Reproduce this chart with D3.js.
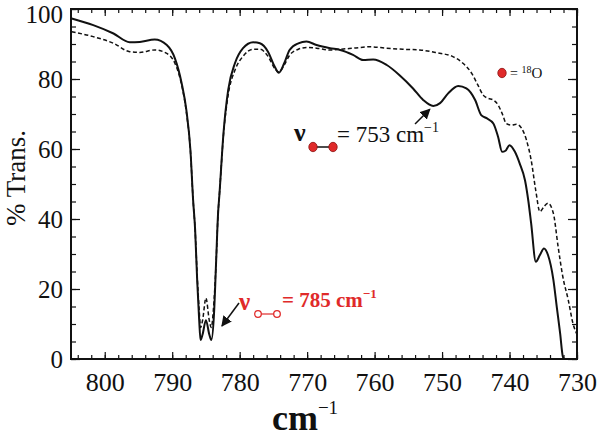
<!DOCTYPE html>
<html><head><meta charset="utf-8">
<script src="https://cdn.jsdelivr.net/npm/d3@7"></script>
<style>body{margin:0;background:#fff}svg{display:block}text{font-family:"Liberation Serif","Times New Roman",serif}</style>
</head><body><svg id="c" width="600" height="441"></svg>
<script>
// ---- data (wavenumber cm^-1, % transmission) ----
const solidSeries = [[804.9,97.3],[801.7,95.4],[798.7,93.0],[796.3,90.5],[794.8,90.6],[792.6,91.3],[790.8,89.7],[789.6,85.9],[788.6,78.8],[787.9,71.1],[787.3,59.7],[786.9,45.4],[786.6,36.9],[786.3,22.6],[786.0,11.1],[785.8,5.4],[785.5,7],[785.0,11.1],[784.5,7],[784.2,5.4],[783.8,13],[783.5,27.3],[783.2,41.6],[783.0,47],[782.4,64.5],[781.7,76.9],[780.7,84.5],[779.5,88.8],[778.0,90.5],[777.0,90.2],[775.8,87.8],[774.8,83.5],[774.2,81.8],[773.4,84.5],[772.6,88.3],[771.3,90.2],[770.1,90.7],[768.6,89.7],[766.6,88.8],[765.1,88.3],[763.2,86.9],[761.7,85.4],[760.2,85.6],[758.2,84.0],[756.3,81.1],[754.3,77.3],[752.8,74],[751.3,72.3],[750.3,73.1],[749.1,75.9],[747.6,78],[746.4,77.3],[745.1,74],[744.2,69.7],[743.4,68.8],[742.4,67.3],[741.7,63.5],[741.1,59.2],[740.6,59.5],[740.0,61.1],[739.2,59.2],[738.5,55.9],[737.7,51],[737.2,45],[736.8,38.8],[736.1,27.8],[735.5,29.7],[734.9,31.6],[734.3,29.7],[733.5,22.6],[733.0,14.9],[732.5,7.3],[732.1,0.7],[731.9,0]];
const dashedSeries = [[804.9,93.5],[801.7,92.1],[798.7,90.2],[796.3,87.8],[794.8,87.6],[792.6,88.3],[790.8,87.3],[789.6,84.5],[788.6,78.3],[787.9,70.5],[787.3,59.5],[786.9,45.4],[786.6,36.9],[786.3,24],[786.0,14],[785.8,9],[785.5,11],[785.0,17.4],[784.5,11],[784.2,9],[783.9,14],[783.5,27.3],[783.2,41.6],[783.0,47],[782.4,64],[781.7,75.5],[780.7,82.5],[779.5,86.5],[778.0,88.5],[777.0,88.5],[775.8,86.5],[774.8,83],[774.2,82],[773.4,84],[772.6,86.8],[771.3,88.5],[770.1,89],[768.6,88.8],[766.6,88.3],[765.1,88.5],[763.2,88.8],[760.7,89.2],[758.2,88.8],[755.8,88.5],[753.3,88.3],[750.8,87.5],[748.4,86.4],[746.9,84.5],[745.6,81.6],[744.7,78.3],[743.9,75.4],[743.2,74.5],[742.4,74],[741.7,72.6],[741.0,69.7],[740.5,67.3],[739.7,66.8],[739.0,67.1],[738.2,65.9],[737.5,62.6],[736.8,56.9],[736.1,48],[735.5,42.1],[734.9,43.5],[734.3,44.5],[733.5,41.6],[732.8,32.1],[732.1,23.5],[731.3,16.9],[730.6,10.2],[730.0,7]];
const xTickValues = [800,790,780,770,760,750,740,730];
const yTickValues = [0,20,40,60,80,100];
const xDomain = [805,730];
const yDomain = [0,100];
const peakLabels = [{v:753, text:"= 753  cm"},{v:785, text:"= 785  cm"}];

const svg = d3.select("#c");
const L=71,R=577,T=9,B=359;
const x = d3.scaleLinear().domain(xDomain).range([L,R]);
const y = d3.scaleLinear().domain(yDomain).range([B,T]);
const red = "#e02a2a";

function ticksAxis(axisGen, tr){
  const g = svg.append("g").attr("transform",tr).call(axisGen);
  g.select(".domain").remove();
  g.selectAll("line").attr("stroke","#111").attr("stroke-width",1.2);
  return g;
}
const minorX = d3.range(804,729,-2);
const minorY = d3.range(0,101,5);
ticksAxis(d3.axisBottom(x).tickValues(minorX).tickSize(-4).tickFormat(""),`translate(0,${B})`);
ticksAxis(d3.axisBottom(x).tickValues(xTickValues).tickSize(-7).tickFormat(""),`translate(0,${B})`);
ticksAxis(d3.axisTop(x).tickValues(minorX).tickSize(-4).tickFormat(""),`translate(0,${T})`);
ticksAxis(d3.axisTop(x).tickValues(xTickValues).tickSize(-7).tickFormat(""),`translate(0,${T})`);
ticksAxis(d3.axisLeft(y).tickValues(minorY).tickSize(-5).tickFormat(""),`translate(${L},0)`);
ticksAxis(d3.axisLeft(y).tickValues(yTickValues).tickSize(-9).tickFormat(""),`translate(${L},0)`);
ticksAxis(d3.axisRight(y).tickValues(minorY).tickSize(-5).tickFormat(""),`translate(${R},0)`);
ticksAxis(d3.axisRight(y).tickValues(yTickValues).tickSize(-9).tickFormat(""),`translate(${R},0)`);

// tick labels
const xl = d3.axisBottom(x).tickValues(xTickValues).tickSize(0).tickPadding(0);
const gx = svg.append("g").attr("transform",`translate(0,${B})`).call(xl);
gx.select(".domain").remove();
gx.selectAll("text").attr("font-size",26).attr("fill","#111").attr("y",32).attr("dy",0).attr("font-family","Liberation Serif");
const yl = d3.axisLeft(y).tickValues(yTickValues).tickSize(0).tickPadding(0);
const gy = svg.append("g").attr("transform",`translate(${L-8},0)`).call(yl);
gy.select(".domain").remove();
gy.selectAll("text").attr("font-size",25).attr("fill","#111").attr("x",0).attr("dy","0.33em").attr("font-family","Liberation Serif");
gy.selectAll(".tick").filter(d=>d===100).select("text").attr("dy","0.54em");

// frame
svg.append("rect").attr("x",L).attr("y",T).attr("width",R-L).attr("height",B-T)
  .attr("fill","none").attr("stroke","#111").attr("stroke-width",2);

// curves
svg.append("clipPath").attr("id","clp").append("rect").attr("x",L).attr("y",T).attr("width",R-L).attr("height",B-T);
const line = d3.line().x(d=>x(d[0])).y(d=>y(d[1])).curve(d3.curveMonotoneX);
svg.append("path").datum(dashedSeries).attr("d",line).attr("fill","none").attr("stroke","#111")
  .attr("stroke-width",1.5).attr("stroke-dasharray","4,2.5").attr("clip-path","url(#clp)");
svg.append("path").datum(solidSeries).attr("d",line).attr("fill","none").attr("stroke","#111")
  .attr("stroke-width",2).attr("clip-path","url(#clp)");

// axis titles
svg.append("text").attr("transform","translate(25,178) rotate(-90)").attr("text-anchor","middle")
  .attr("font-size",27).attr("fill","#111").text("% Trans.");
const xt = svg.append("text").attr("x",305).attr("y",430).attr("text-anchor","middle").attr("font-size",36).attr("font-weight","bold").attr("fill","#111");
xt.append("tspan").text("cm");
xt.append("tspan").attr("font-size",19).attr("dy",-16).attr("font-weight","normal").text("\u22121");

// arrowhead marker
svg.append("defs").append("marker").attr("id","ah").attr("viewBox","0 0 10 10").attr("refX",9).attr("refY",5)
  .attr("markerWidth",7).attr("markerHeight",7).attr("orient","auto")
  .append("path").attr("d","M0,0L10,5L0,10z").attr("fill","#111");

// 753 annotation
const a1 = peakLabels[0];
svg.append("line").attr("x1",415).attr("y1",124).attr("x2",x(a1.v)+8).attr("y2",y(72.5)+4)
  .attr("stroke","#111").attr("stroke-width",1.5).attr("marker-end","url(#ah)");
svg.append("text").attr("x",294).attr("y",141).attr("font-size",26).attr("font-weight","bold").attr("fill","#111").text("\u03bd");
svg.append("line").attr("x1",313).attr("x2",333).attr("y1",147).attr("y2",147).attr("stroke","#111").attr("stroke-width",1.5);
[313,333].forEach(cx=>svg.append("ellipse").attr("cx",cx).attr("cy",147).attr("rx",4.2).attr("ry",4.7).attr("fill",red).attr("stroke","#8a1010").attr("stroke-width",0.8));
const t1 = svg.append("text").attr("x",337).attr("y",142).attr("font-size",23).attr("fill","#111");
t1.append("tspan").text(a1.text);
t1.append("tspan").attr("font-size",14).attr("dy",-10).text("\u22121");

// 785 annotation (red)
const a2 = peakLabels[1];
svg.append("line").attr("x1",239).attr("y1",303).attr("x2",x(a2.v)+16).attr("y2",y(10)+2)
  .attr("stroke","#111").attr("stroke-width",1.5).attr("marker-end","url(#ah)");
svg.append("text").attr("x",239).attr("y",310).attr("font-size",25).attr("font-weight","bold").attr("fill",red).text("\u03bd");
svg.append("line").attr("x1",261).attr("x2",274).attr("y1",314).attr("y2",314).attr("stroke",red).attr("stroke-width",1.2);
[258,277].forEach(cx=>svg.append("circle").attr("cx",cx).attr("cy",314).attr("r",3.3).attr("fill","#fff").attr("stroke",red).attr("stroke-width",1.3));
const t2 = svg.append("text").attr("x",282).attr("y",307).attr("font-size",21).attr("font-weight","bold").attr("fill",red);
t2.append("tspan").text(a2.text);
t2.append("tspan").attr("font-size",13).attr("dy",-9).text("\u22121");

// 18O key
svg.append("ellipse").attr("cx",502).attr("cy",73).attr("rx",4.2).attr("ry",4.7).attr("fill",red).attr("stroke","#8a1010").attr("stroke-width",0.8);
const t3 = svg.append("text").attr("x",510).attr("y",78).attr("font-size",14).attr("fill","#111");
t3.append("tspan").text("= ");
t3.append("tspan").attr("font-size",10).attr("dy",-5).text("18");
t3.append("tspan").attr("font-size",15).attr("dy",5).text("O");
</script></body></html>
